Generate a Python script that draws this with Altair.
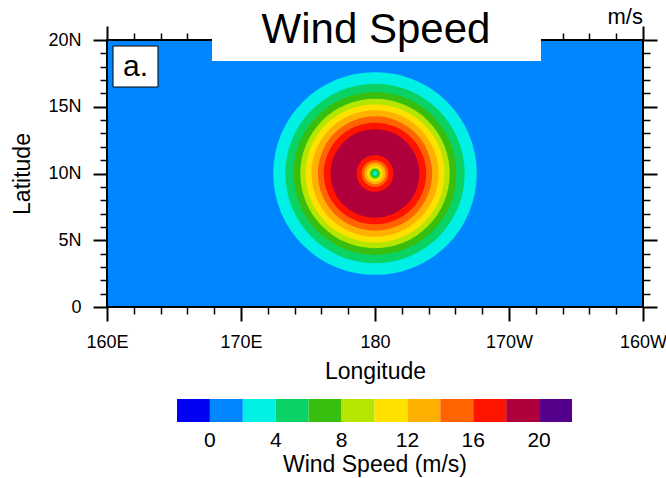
import altair as alt
import pandas as pd

# ---------------- data ----------------
lon_range = [160, 200]          # 160E .. 160W (200 = 160W)
lat_range = [0, 20]
background_speed = 1            # 0-2 m/s everywhere outside the vortex

center_lon = 180
center_lat = 10
# radius (deg) of each filled contour boundary, outer -> inner
ring_radius = [7.59, 6.72, 6.10, 5.60, 5.17, 4.73, 4.28, 3.81, 3.31,
               1.37, 1.00, 0.80, 0.60, 0.45, 0.35, 0.25, 0.15]
# representative speed (m/s) of the band inside each boundary
ring_speed = [3, 5, 7, 9, 11, 13, 15, 17, 19,
              17, 15, 13, 11, 9, 7, 5, 3]

levels = [0, 2, 4, 6, 8, 10, 12, 14, 16, 18, 20]
colors = ["#0000F5", "#0087FF", "#00F0E6", "#0AD264", "#37BE0F", "#B4E600",
          "#FFE100", "#FFB000", "#FF6400", "#FF1400", "#B0003C", "#55008C"]

lon_ticks = list(range(160, 201, 2))
lat_ticks = list(range(0, 21, 1))

title_text = ["Wind Speed"]
units_text = ["m/s"]
panel_text = ["a."]

# ---------------- geometry ----------------
W, H = 536, 267
FONT = "Liberation Sans"

bg_df = pd.DataFrame({"lon0": [lon_range[0]], "lon1": [lon_range[1]],
                      "lat0": [lat_range[0]], "lat1": [lat_range[1]],
                      "speed": [background_speed]})
rings_df = pd.DataFrame({"lon": [center_lon] * len(ring_radius),
                         "lat": [center_lat] * len(ring_radius),
                         "r": ring_radius, "speed": ring_speed})

xscale = alt.Scale(domain=lon_range, nice=False, zero=False)
yscale = alt.Scale(domain=lat_range, nice=False, zero=False)
rscale = alt.Scale(type="linear", domain=[0, lat_range[1] - lat_range[0]], range=[0, H], zero=True)
cscale = alt.Scale(type="threshold", domain=levels, range=colors)

lon_major = "datum.value % 10 === 0"
lat_major = "datum.value % 5 === 0"

lon_label = ("datum.value % 10 !== 0 ? '' : datum.value == 180 ? '180' : "
             "datum.value < 180 ? datum.value + 'E' : (360 - datum.value) + 'W'")
lat_label = "datum.value % 5 !== 0 ? '' : datum.value == 0 ? '0' : datum.value + 'N'"


def tick_size(test):
    return {"condition": {"test": test, "value": 14}, "value": 7}


def tick_width(test):
    return {"condition": {"test": test, "value": 2}, "value": 1.5}


x_bottom = alt.Axis(orient="bottom", values=lon_ticks, labelExpr=lon_label,
                    tickSize=tick_size(lon_major), tickWidth=tick_width(lon_major),
                    tickColor="black", domain=False, grid=False,
                    labelFont=FONT, labelFontSize=18, labelColor="black", labelPadding=12,
                    labelOverlap=False, labelFlush=False,
                    title="Longitude", titleFont=FONT, titleFontSize=23,
                    titleFontWeight="normal", titleColor="black", titlePadding=9)
y_left = alt.Axis(orient="left", values=lat_ticks, labelExpr=lat_label,
                  tickSize=tick_size(lat_major), tickWidth=tick_width(lat_major),
                  tickColor="black", domain=False, grid=False,
                  labelFont=FONT, labelFontSize=18, labelColor="black", labelPadding=12,
                  labelOverlap=False, labelFlush=False,
                  title="Latitude", titleFont=FONT, titleFontSize=23,
                  titleFontWeight="normal", titleColor="black", titlePadding=13)
x_top = alt.Axis(orient="top", values=lon_ticks, labels=False,
                 tickSize=tick_size(lon_major), tickWidth=tick_width(lon_major),
                 tickColor="black", domain=False, grid=False, title=None)
y_right = alt.Axis(orient="right", values=lat_ticks, labels=False,
                   tickSize=tick_size(lat_major), tickWidth=tick_width(lat_major),
                   tickColor="black", domain=False, grid=False, title=None)

legend = alt.Legend(type="gradient", orient="none", legendX=70, legendY=359,
                    direction="horizontal", gradientLength=395, gradientThickness=23,
                    gradientStrokeWidth=0, padding=0,
                    labelExpr="datum.value % 4 === 0 ? datum.label : ''",
                    labelFont=FONT, labelFontSize=21, labelColor="black", labelOffset=8,
                    labelOverlap=False, labelLimit=200,
                    title="Wind Speed (m/s)", titleOrient="bottom", titleAnchor="middle",
                    titleFont=FONT, titleFontSize=23, titleFontWeight="normal",
                    titleColor="black", titlePadding=3, titleLimit=500)

color = alt.Color("speed:Q", scale=cscale, legend=legend)

background = alt.Chart(bg_df).mark_rect(stroke="black", strokeWidth=2).encode(
    x=alt.X("lon0:Q", scale=xscale, axis=x_bottom),
    x2="lon1:Q",
    y=alt.Y("lat0:Q", scale=yscale, axis=y_left),
    y2="lat1:Q",
    color=color,
)

rings = alt.Chart(rings_df).mark_arc(theta=6.2832, stroke=None).encode(
    x=alt.X("lon:Q", scale=xscale, axis=None),
    y=alt.Y("lat:Q", scale=yscale, axis=None),
    radius=alt.Radius("r:Q", scale=rscale, stack=None),
    color=color,
    order=alt.Order("r:Q", sort="descending"),
)

frame_axes = alt.Chart(bg_df).mark_rect(opacity=0).encode(
    x=alt.X("lon0:Q", scale=xscale, axis=x_top),
    x2="lon1:Q",
    y=alt.Y("lat0:Q", scale=yscale, axis=y_right),
    y2="lat1:Q",
)

title_box = alt.Chart(pd.DataFrame({"t": title_text})).mark_rect(fill="white").encode(
    x=alt.value(105), x2=alt.value(434), y=alt.value(-40), y2=alt.value(21))
title = alt.Chart(pd.DataFrame({"t": title_text})).mark_text(
    font=FONT, fontSize=42, color="black", align="center", baseline="alphabetic").encode(
    x=alt.value(269), y=alt.value(3), text="t:N")
units = alt.Chart(pd.DataFrame({"t": units_text})).mark_text(
    font=FONT, fontSize=22, color="black", align="right", baseline="alphabetic").encode(
    x=alt.value(536), y=alt.value(-16), text="t:N")
panel_box = alt.Chart(pd.DataFrame({"t": panel_text})).mark_rect(
    fill="white", stroke="black", strokeWidth=1).encode(
    x=alt.value(6), x2=alt.value(51), y=alt.value(6), y2=alt.value(47))
panel = alt.Chart(pd.DataFrame({"t": panel_text})).mark_text(
    font=FONT, fontSize=30, color="black", align="center", baseline="alphabetic").encode(
    x=alt.value(28.5), y=alt.value(36), text="t:N")

chart = alt.layer(background, rings, frame_axes, title_box, title, units, panel_box, panel).resolve_axis(
    x="independent", y="independent"
).properties(
    width=W, height=H,
    autosize=alt.AutoSizeParams(type="none"),
    padding={"left": 107, "top": 40, "right": 23, "bottom": 171},
).configure_view(stroke=None).configure(font=FONT, background="white")

chart.save("out.html", embed_options={"renderer": "svg", "actions": False})
